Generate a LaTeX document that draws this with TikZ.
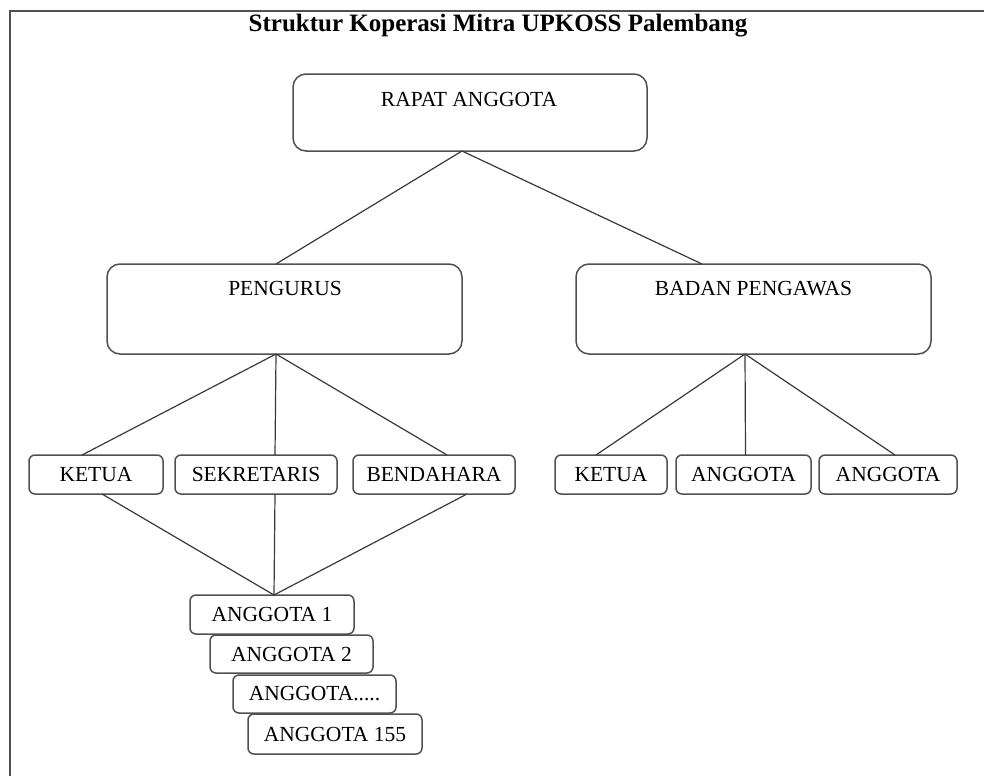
\documentclass[tikz,border=0pt]{standalone}
\usepackage{fontspec}
\setmainfont{Liberation Serif}
\usetikzlibrary{calc}
\definecolor{edge}{HTML}{505050}
\definecolor{wire}{HTML}{3A3A3A}
\begin{document}
\begin{tikzpicture}[x=1pt,y=-1pt,
  frame/.style={line width=2pt,draw=edge},
  bigbox/.style={draw=edge,line width=1.5pt,fill=white,rounded corners=13pt,
    inner sep=0pt,outer sep=0pt},
  smallbox/.style={draw=edge,line width=1.5pt,fill=white,rounded corners=6pt,
    inner sep=0pt,outer sep=0pt,minimum height=39pt,
    font=\fontsize{21.5}{24}\selectfont},
  boxtext/.style={anchor=base,inner sep=0pt,font=\fontsize{21.5}{24}\selectfont},
  wire/.style={draw=wire,line width=1.2pt}]

% page area
\fill[white] (0,0) rectangle (984,776);
\useasboundingbox (0,0) rectangle (984,776);

% frame lines along the top and left edge
\coordinate (ftop) at (984,11);
\coordinate (fcorner) at (10,11);
\coordinate (fbottom) at (10,776);
\draw[frame] (ftop) -- (fcorner) -- (fbottom);

% title
\node[font=\fontsize{25}{28}\selectfont\bfseries,inner sep=0pt] (title) at (498,26)
  {Struktur Koperasi Mitra UPKOSS Palembang};

% top level
\node[bigbox,minimum width=354pt,minimum height=77pt] (rapat) at (470,112.5) {};
\node[boxtext] (rapatT) at ($(rapat.north)+(-1,32)$) {RAPAT ANGGOTA};

% second level
\node[bigbox,minimum width=355pt,minimum height=90pt] (peng) at (284.5,309) {};
\node[boxtext] (pengT) at ($(peng.north)+(0.5,31)$) {PENGURUS};
\node[bigbox,minimum width=355pt,minimum height=90pt] (badan) at (753.5,309) {};
\node[boxtext] (badanT) at ($(badan.north)+(0,31)$) {BADAN PENGAWAS};

% third level, left branch
\node[smallbox,minimum width=134pt] (ketuaL) at (96,474.5) {KETUA};
\node[smallbox,minimum width=162pt] (sek) at (256,474.5) {SEKRETARIS};
\node[smallbox,minimum width=162pt] (bend) at (434,474.5) {BENDAHARA};

% third level, right branch
\node[smallbox,minimum width=112pt] (ketuaR) at (611,474.5) {KETUA};
\node[smallbox,minimum width=135pt] (anggA) at (743.5,474.5) {ANGGOTA};
\node[smallbox,minimum width=138pt] (anggB) at (888,474.5) {ANGGOTA};

% connectors
\draw[wire] ([xshift=-8pt]rapat.south) -- ([xshift=-8.5pt]peng.north);
\draw[wire] ([xshift=-8pt]rapat.south) -- ([xshift=-51.5pt]badan.north);

\draw[wire] ([xshift=-8.5pt]peng.south) -- ([xshift=-14pt]ketuaL.north);
\draw[wire] ([xshift=-8.5pt]peng.south) -- ([xshift=19pt]sek.north);
\draw[wire] ([xshift=-8.5pt]peng.south) -- ([xshift=13pt]bend.north);

\draw[wire] ([xshift=-8.5pt]badan.south) -- ([xshift=-15pt]ketuaR.north);
\draw[wire] ([xshift=-8.5pt]badan.south) -- ([xshift=2pt]anggA.north);
\draw[wire] ([xshift=-8.5pt]badan.south) -- ([xshift=7pt]anggB.north);

% member stack
\node[smallbox,minimum width=164pt,minimum height=39pt] (a1) at (272,614.5) {ANGGOTA 1};
\node[smallbox,minimum width=163pt,minimum height=38pt] (a2) at (291.5,654) {ANGGOTA 2};
\node[smallbox,minimum width=163pt,minimum height=38pt] (a3) at (314.5,694) {ANGGOTA.....};
\node[smallbox,minimum width=174pt,minimum height=40pt] (a4) at (335,734) {ANGGOTA 155};

\draw[wire] ([xshift=6pt]ketuaL.south) -- ([xshift=2pt]a1.north);
\draw[wire] ([xshift=19pt]sek.south) -- ([xshift=2pt]a1.north);
\draw[wire] ([xshift=33pt]bend.south) -- ([xshift=2pt]a1.north);
\end{tikzpicture}
\end{document}
